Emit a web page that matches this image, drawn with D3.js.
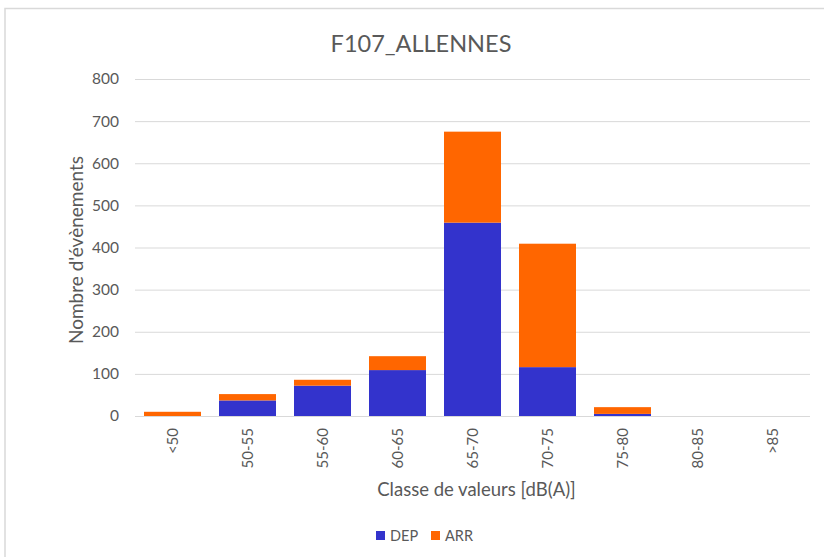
<!DOCTYPE html>
<html><head><meta charset="utf-8">
<script src="https://cdn.jsdelivr.net/npm/d3@7"></script>
<style>
html,body{margin:0;padding:0;background:#fff;}
svg text{font-family:Lato,"Open Sans",sans-serif;fill:#595959;}
</style></head>
<body><svg id="chart" width="824" height="557"></svg>
<script>
const categories = ["<50","50-55","55-60","60-65","65-70","70-75","75-80","80-85",">85"];
const dep = [0,37,72,109,459,116,5,0,0];
const arr = [10,15,14,33,216,293,16,0,0];
const yTicks = [0,100,200,300,400,500,600,700,800];
const seriesNames = ["DEP","ARR"];
const colors = {DEP:"#3333CC", ARR:"#FF6600"};

(function(){
const svg = d3.select("#chart");
svg.append("rect").attr("x",5).attr("y",8.5).attr("width",840).attr("height",580)
  .attr("fill","#fff").attr("stroke","#D9D9D9").attr("stroke-width",1.5);

const pL=135, pR=810, pT=79, pB=416;
const x = d3.scaleBand().domain(categories).range([pL,pR]).paddingInner(0.24).paddingOuter(0.12);
const y = d3.scaleLinear().domain([0,800]).range([pB,pT]);

svg.append("g").selectAll("line").data(yTicks).join("line")
  .attr("x1",pL).attr("x2",pR).attr("y1",d=>y(d)+0.5).attr("y2",d=>y(d)+0.5)
  .attr("stroke","#D9D9D9").attr("stroke-width",1);

const data = categories.map((c,i)=>({cat:c, DEP:dep[i], ARR:arr[i]}));
const stack = d3.stack().keys(seriesNames)(data);
svg.append("g").selectAll("g").data(stack).join("g").attr("fill",d=>colors[d.key])
  .selectAll("rect").data(d=>d).join("rect")
  .attr("x",d=>x(d.data.cat)).attr("width",x.bandwidth())
  .attr("y",d=>y(d[1])).attr("height",d=>y(d[0])-y(d[1]));

const yAxis = d3.axisLeft(y).tickValues(yTicks).tickSize(0).tickPadding(0);
const ya = svg.append("g").attr("transform",`translate(${pL-16},0)`).call(yAxis);
ya.select(".domain").remove();
ya.selectAll("text").attr("font-size","15.5px").style("font-family","Lato").attr("fill","#595959");

const xAxis = d3.axisBottom(x).tickSize(0).tickPadding(0);
const xa = svg.append("g").attr("transform",`translate(0,${pB})`).call(xAxis);
xa.select(".domain").remove();
xa.selectAll("text").attr("font-size","15px").style("font-family","Lato").attr("fill","#595959")
  .attr("transform","rotate(-90)").attr("text-anchor","end")
  .attr("x",-12).attr("y",0).attr("dy","0.35em").attr("dx",0);

svg.append("text").attr("x",421).attr("y",52).attr("text-anchor","middle")
  .attr("font-size","23.5px").text("F107_ALLENNES");

svg.append("text").attr("x",(pL+pR)/2 + 4).attr("y",496).attr("text-anchor","middle")
  .attr("font-size","18.5px").text("Classe de valeurs [dB(A)]");
svg.append("text").attr("transform",`translate(83,250) rotate(-90)`)
  .attr("text-anchor","middle").attr("font-size","19px").text("Nombre d'évènements");

const legendX = [376,431];
const lg = svg.append("g").selectAll("g").data(seriesNames).join("g")
  .attr("transform",(d,i)=>`translate(${legendX[i]},531)`);
lg.append("rect").attr("width",9).attr("height",9).attr("fill",d=>colors[d]);
lg.append("text").attr("x",14).attr("y",9.5).attr("font-size","14.5px").text(d=>d);
})();
</script></body></html>
